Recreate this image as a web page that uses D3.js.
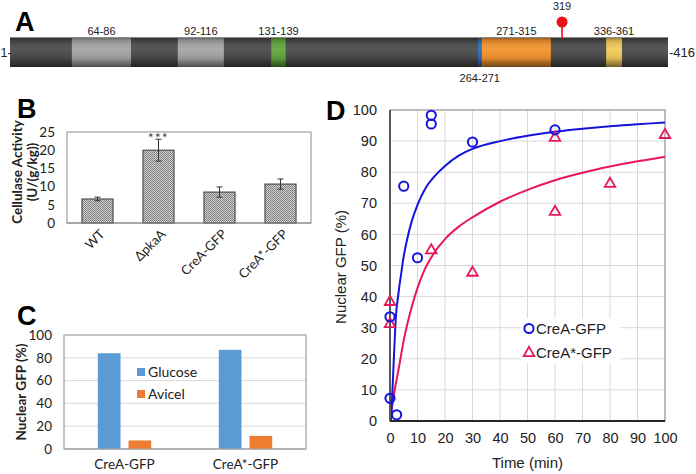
<!DOCTYPE html>
<html><head><meta charset="utf-8">
<script src="https://cdn.jsdelivr.net/npm/d3@7"></script>
<style>body{margin:0;background:#fff}svg{display:block}</style>
</head><body><svg id="c" width="696" height="474"></svg>
<script>
// ---------- Panel A data ----------
const proteinLength = 416;
const domainStarts = [64, 92, 131, 264, 271, 336];
const domainEnds   = [86, 116, 139, 271, 315, 361];
const domainLabels = ["64-86", "92-116", "131-139", "264-271", "271-315", "336-361"];
const domainColors = ["#a6a6a6", "#a6a6a6", "#62a83e", "#2f6db5", "#f4952f", "#f4cb5a"];
const domainLabelSide = ["top", "top", "top", "bottom", "top", "top"];
const sitePos = 319;
const siteLabel = "319";
// schematic (not-to-scale) map: residue breakpoints -> fraction of bar length
const schematicBreaks = [1, 64, 86, 92, 116, 131, 139, 264, 271, 315, 319, 336, 361, 416];
const schematicFrac   = [0, 0.094, 0.184, 0.255, 0.325, 0.397, 0.419, 0.711, 0.717, 0.822, 0.839, 0.906, 0.930, 1];

// ---------- Panel B data ----------
const strainLabels = ["WT", "ΔpkaA", "CreA-GFP", "CreA*-GFP"];
const cellulaseMean = [6.6, 20.0, 8.5, 10.7];
const cellulaseErr  = [0.5, 3.0, 1.4, 1.4];
const cellulaseTicks = [0, 5, 10, 15, 20, 25];
const sigLabels = ["", "***", "", ""];

// ---------- Panel C data ----------
const cCategories = ["CreA-GFP", "CreA*-GFP"];
const cSeries = ["Glucose", "Avicel"];
const glucoseVals = [84, 87];
const avicelVals  = [7.5, 11.5];
const cTicks = [0, 20, 40, 60, 80, 100];

// ---------- Panel D data ----------
const creaTime = [0, 0, 2.4, 5, 10, 15, 15, 30, 60];
const creaGFP  = [33.5, 7.3, 2.0, 75.5, 52.5, 98.3, 95.5, 89.7, 93.6];
const creaStarTime = [0, 0, 15, 30, 60, 60, 80, 100];
const creaStarGFP  = [38.6, 31.5, 55.2, 48, 91.4, 67.6, 76.6, 92.3];
// fitted curves
const creaFitTime = [0.35, 0.85, 1.5, 2.1, 3, 4, 5, 6, 8, 10, 13, 16, 20, 25, 30, 40, 50, 60, 70, 80, 90, 100];
const creaFitGFP  = [0, 9, 22, 33, 40.5, 47, 53, 57.5, 64.5, 69.5, 75, 78.5, 82, 85.3, 87.5, 90, 91.7, 93, 94, 94.8, 95.4, 96];
const creaStarFitTime = [0, 1, 2, 3, 5, 8, 12, 16, 20, 25, 30, 40, 50, 60, 70, 80, 90, 100];
const creaStarFitGFP  = [0, 6, 11.5, 16, 26, 37, 47.5, 54, 58.5, 62.5, 65.5, 70.5, 74.3, 77.4, 79.8, 81.8, 83.5, 85];
const dTicksX = [0, 10, 20, 30, 40, 50, 60, 70, 80, 90, 100];
const dTicksY = [0, 10, 20, 30, 40, 50, 60, 70, 80, 90, 100];
const dSeriesNames = ["CreA-GFP", "CreA*-GFP"];

// ================================================================
const svg = d3.select("#c");
svg.append("rect").attr("width", 696).attr("height", 474).attr("fill", "#fff");
const defs = svg.append("defs");

const SANS = "'Liberation Sans', Arial, sans-serif";
const CAL = "Lato, 'Open Sans', sans-serif";

function panelLetter(t, x, y) {
  svg.append("text").attr("x", x).attr("y", y).text(t)
    .attr("font-family", SANS).attr("font-weight", "bold").attr("font-size", 27).attr("fill", "#000");
}

// ---------------- Panel A ----------------
{
  const barL = 10, barR = 668, barY = 37, barH = 30;
  const ax = d3.scaleLinear().domain(schematicBreaks)
    .range(schematicFrac.map(f => barL + f * (barR - barL)));

  const sh = defs.append("linearGradient").attr("id", "shade").attr("x1", 0).attr("y1", 0).attr("x2", 0).attr("y2", 1);
  [[0, "#000", 0.45], [0.12, "#000", 0.15], [0.42, "#fff", 0.06], [0.7, "#000", 0.08], [1, "#000", 0.55]]
    .forEach(([o, c, a]) => sh.append("stop").attr("offset", o).attr("stop-color", c).attr("stop-opacity", a));

  const gA = svg.append("g");
  gA.append("rect").attr("x", ax(1)).attr("y", barY).attr("width", ax(proteinLength) - ax(1)).attr("height", barH)
    .attr("fill", "#4b4b4b");
  domainStarts.forEach((s, i) => {
    gA.append("rect").attr("x", ax(s)).attr("y", barY).attr("width", ax(domainEnds[i]) - ax(s)).attr("height", barH)
      .attr("fill", domainColors[i]);
  });
  gA.append("rect").attr("x", ax(1)).attr("y", barY).attr("width", ax(proteinLength) - ax(1)).attr("height", barH)
    .attr("fill", "url(#shade)");
  gA.append("line").attr("x1", ax(1)).attr("x2", ax(proteinLength)).attr("y1", barY + 0.5).attr("y2", barY + 0.5)
    .attr("stroke", "#8a8a8a").attr("stroke-width", 1);

  domainStarts.forEach((s, i) => {
    const cx = (ax(s) + ax(domainEnds[i])) / 2;
    gA.append("text").attr("x", cx).attr("y", domainLabelSide[i] === "top" ? barY - 2 : barY + barH + 15)
      .attr("text-anchor", "middle").attr("font-family", SANS).attr("font-size", 11).attr("fill", "#222")
      .text(domainLabels[i]);
  });
  // phosphosite pin
  const px = ax(sitePos);
  gA.append("line").attr("x1", px).attr("x2", px).attr("y1", 24).attr("y2", barY + 2)
    .attr("stroke", "#e8101a").attr("stroke-width", 1.6);
  gA.append("circle").attr("cx", px).attr("cy", 22).attr("r", 5.5).attr("fill", "#ec1016");
  gA.append("text").attr("x", px).attr("y", 10).attr("text-anchor", "middle")
    .attr("font-family", SANS).attr("font-size", 11).attr("fill", "#222").text(siteLabel);
  gA.append("text").attr("x", 0.5).attr("y", barY + barH / 2 + 5).attr("text-anchor", "start")
    .attr("font-family", SANS).attr("font-size", 12.5).attr("fill", "#222").text("1-");
  gA.append("text").attr("x", ax(proteinLength) + 1).attr("y", barY + barH / 2 + 5).attr("text-anchor", "start")
    .attr("font-family", SANS).attr("font-size", 13).attr("fill", "#222").text("-" + proteinLength);
  panelLetter("A", 15, 31);
}

// ---------------- Panel B ----------------
{
  const L = 67, R = 311, T = 132, B = 223;
  const x = d3.scaleBand().domain(strainLabels).range([L, R]).paddingInner(0.49).paddingOuter(0.245);
  const y = d3.scaleLinear().domain([0, 25]).range([B, T]);
  const pat = defs.append("pattern").attr("id", "dots").attr("width", 2).attr("height", 2).attr("patternUnits", "userSpaceOnUse");
  pat.append("rect").attr("width", 2).attr("height", 2).attr("fill", "#cfcfcf");
  pat.append("rect").attr("width", 1).attr("height", 1).attr("fill", "#7c7c7c");
  pat.append("rect").attr("x", 1).attr("y", 1).attr("width", 1).attr("height", 1).attr("fill", "#8a8a8a");

  const g = svg.append("g");
  g.append("rect").attr("x", L).attr("y", T).attr("width", R - L).attr("height", B - T)
    .attr("fill", "none").attr("stroke", "#8c8c8c").attr("stroke-width", 1);
  g.selectAll(".bar").data(strainLabels).join("rect")
    .attr("x", d => x(d)).attr("width", x.bandwidth())
    .attr("y", (d, i) => y(cellulaseMean[i])).attr("height", (d, i) => y(0) - y(cellulaseMean[i]))
    .attr("fill", "url(#dots)").attr("stroke", "#3a3a3a").attr("stroke-width", 1);
  g.append("line").attr("x1", L).attr("x2", R).attr("y1", B).attr("y2", B).attr("stroke", "#8c8c8c").attr("stroke-width", 1.2);
  strainLabels.forEach((d, i) => {
    const cx = x(d) + x.bandwidth() / 2;
    const y1 = y(cellulaseMean[i] + cellulaseErr[i]), y0 = y(cellulaseMean[i] - cellulaseErr[i]);
    g.append("line").attr("x1", cx).attr("x2", cx).attr("y1", y1).attr("y2", y0).attr("stroke", "#333").attr("stroke-width", 1);
    [y1, y0].forEach(yy => g.append("line").attr("x1", cx - 3).attr("x2", cx + 3).attr("y1", yy).attr("y2", yy)
      .attr("stroke", "#333").attr("stroke-width", 1));
    if (sigLabels[i]) g.append("text").attr("x", cx).attr("y", 143).attr("text-anchor", "middle")
      .attr("font-family", CAL).attr("font-size", 13).attr("letter-spacing", 1.5).attr("fill", "#333").text(sigLabels[i]);
    g.append("text").attr("transform", `translate(${cx + 8},${B + 12}) rotate(-45)`).attr("text-anchor", "end")
      .attr("font-family", CAL).attr("font-size", 13).attr("fill", "#222").text(d);
  });
  const yAx = g.append("g").attr("transform", `translate(${L},0)`)
    .call(d3.axisLeft(y).tickValues(cellulaseTicks).tickSize(0).tickPadding(12));
  yAx.select(".domain").remove();
  yAx.selectAll("text").attr("font-family", CAL).attr("font-size", 13.5).attr("fill", "#222");
  const tl = g.append("text").attr("transform", `rotate(-90) translate(${-172},0)`)
    .attr("text-anchor", "middle").attr("font-family", CAL).attr("font-weight", "bold").attr("font-size", 13.5).attr("fill", "#222");
  tl.append("tspan").attr("x", 0).attr("y", 22).text("Cellulase Activity");
  tl.append("tspan").attr("x", 0).attr("y", 37).text("(U/(g/kg))");
  panelLetter("B", 17, 118);
}

// ---------------- Panel C ----------------
{
  const L = 64, R = 306, T = 335, B = 449;
  const x = d3.scaleBand().domain(cCategories).range([L, R]);
  const xs = d3.scaleBand().domain(cSeries).range([0, x.bandwidth()]).paddingInner(0.26).paddingOuter(1.1);
  const y = d3.scaleLinear().domain([0, 100]).range([B, T]);
  const colors = { Glucose: "#5b9bd5", Avicel: "#ed7d31" };
  const vals = { Glucose: glucoseVals, Avicel: avicelVals };
  const g = svg.append("g");
  cTicks.slice(1, -1).forEach(t => g.append("line").attr("x1", L).attr("x2", R).attr("y1", y(t)).attr("y2", y(t))
    .attr("stroke", "#d9d9d9").attr("stroke-width", 1));
  g.append("rect").attr("x", L).attr("y", T).attr("width", R - L).attr("height", B - T)
    .attr("fill", "none").attr("stroke", "#8c8c8c").attr("stroke-width", 1);
  cCategories.forEach((c, ci) => {
    cSeries.forEach(s => {
      const v = vals[s][ci];
      g.append("rect").attr("x", x(c) + xs(s)).attr("width", xs.bandwidth())
        .attr("y", y(v)).attr("height", y(0) - y(v)).attr("fill", colors[s]);
    });
    g.append("text").attr("x", x(c) + x.bandwidth() / 2).attr("y", B + 20).attr("text-anchor", "middle")
      .attr("font-family", CAL).attr("font-size", 13.5).attr("fill", "#222").text(c);
  });
  g.append("line").attr("x1", L).attr("x2", R).attr("y1", B).attr("y2", B).attr("stroke", "#a6a6a6").attr("stroke-width", 1.2);
  const yAx = g.append("g").attr("transform", `translate(${L},0)`)
    .call(d3.axisLeft(y).tickValues(cTicks).tickSize(0).tickPadding(12));
  yAx.select(".domain").remove();
  yAx.selectAll("text").attr("font-family", CAL).attr("font-size", 13.5).attr("fill", "#222");
  g.append("text").attr("transform", `translate(26,${(T + B) / 2}) rotate(-90)`).attr("text-anchor", "middle")
    .attr("font-family", CAL).attr("font-weight", "bold").attr("font-size", 13.5).attr("fill", "#222").text("Nuclear GFP (%)");
  cSeries.forEach((s, i) => {
    const ly = 372 + i * 22;
    g.append("rect").attr("x", 137).attr("y", ly - 4).attr("width", 8).attr("height", 8).attr("fill", colors[s]);
    g.append("text").attr("x", 148).attr("y", ly + 5).attr("font-family", CAL).attr("font-size", 14).attr("fill", "#222").text(s);
  });
  panelLetter("C", 17, 325);
}

// ---------------- Panel D ----------------
{
  const L = 390, R = 665, T = 110, B = 421;
  const x = d3.scaleLinear().domain([0, 100]).range([L, R]);
  const y = d3.scaleLinear().domain([0, 100]).range([B, T]);
  const blue = "#1414dc", pink = "#e6175c";
  const g = svg.append("g");
  dTicksX.slice(1).forEach(t => g.append("line").attr("x1", x(t)).attr("x2", x(t)).attr("y1", T).attr("y2", B)
    .attr("stroke", "#d9d9d9").attr("stroke-width", 1));
  dTicksY.slice(1).forEach(t => g.append("line").attr("x1", L).attr("x2", R).attr("y1", y(t)).attr("y2", y(t))
    .attr("stroke", "#d9d9d9").attr("stroke-width", 1));
  g.append("rect").attr("x", L).attr("y", T).attr("width", R - L).attr("height", B - T)
    .attr("fill", "none").attr("stroke", "#8c8c8c").attr("stroke-width", 1);

  defs.append("clipPath").attr("id", "dclip").append("rect").attr("x", L).attr("y", T - 8).attr("width", R - L + 2).attr("height", B - T + 8);
  const line = d3.line().x(d => x(d[0])).y(d => y(d[1])).curve(d3.curveMonotoneX);
  g.append("path").attr("clip-path", "url(#dclip)").attr("d", line(creaStarFitTime.map((t, i) => [t, creaStarFitGFP[i]])))
    .attr("fill", "none").attr("stroke", pink).attr("stroke-width", 2);
  g.append("path").attr("clip-path", "url(#dclip)").attr("d", line(creaFitTime.map((t, i) => [t, creaFitGFP[i]])))
    .attr("fill", "none").attr("stroke", blue).attr("stroke-width", 2);

  // legend box
  g.append("rect").attr("x", 521).attr("y", 318).attr("width", 100).attr("height", 45).attr("fill", "#fff");

  g.append("line").attr("x1", L).attr("x2", L).attr("y1", T).attr("y2", B).attr("stroke", "#595959").attr("stroke-width", 2);
  g.append("line").attr("x1", L).attr("x2", R).attr("y1", B).attr("y2", B).attr("stroke", "#262626").attr("stroke-width", 2);

  const tri = d3.symbol().type(d3.symbolTriangle).size(48);
  creaStarTime.forEach((t, i) => g.append("path").attr("d", tri()).attr("transform", `translate(${x(t)},${y(creaStarGFP[i]) + 1})`)
    .attr("fill", "none").attr("stroke", pink).attr("stroke-width", 1.8));
  creaTime.forEach((t, i) => g.append("circle").attr("cx", x(t)).attr("cy", y(creaGFP[i])).attr("r", 4.6)
    .attr("fill", "none").attr("stroke", blue).attr("stroke-width", 2));

  const xAx = g.append("g").attr("transform", `translate(0,${B})`)
    .call(d3.axisBottom(x).tickValues(dTicksX).tickSize(0).tickPadding(12));
  xAx.select(".domain").remove();
  xAx.selectAll("text").attr("font-family", SANS).attr("font-size", 14.5).attr("fill", "#222");
  const yAx = g.append("g").attr("transform", `translate(${L},0)`)
    .call(d3.axisLeft(y).tickValues(dTicksY).tickSize(0).tickPadding(13));
  yAx.select(".domain").remove();
  yAx.selectAll("text").attr("font-family", SANS).attr("font-size", 14.5).attr("fill", "#222");
  g.append("text").attr("x", (L + R) / 2).attr("y", 468).attr("text-anchor", "middle")
    .attr("font-family", SANS).attr("font-size", 15).attr("fill", "#222").text("Time (min)");
  g.append("text").attr("transform", `translate(346,267) rotate(-90)`).attr("text-anchor", "middle")
    .attr("font-family", SANS).attr("font-size", 15).attr("fill", "#222").text("Nuclear GFP (%)");

  // legend entries
  g.append("circle").attr("cx", 529).attr("cy", 328.5).attr("r", 4.6).attr("fill", "none").attr("stroke", blue).attr("stroke-width", 2);
  g.append("path").attr("d", tri()).attr("transform", "translate(529,353)").attr("fill", "none").attr("stroke", pink).attr("stroke-width", 1.8);
  dSeriesNames.forEach((n, i) => g.append("text").attr("x", 536).attr("y", 334 + i * 23.5)
    .attr("font-family", SANS).attr("font-size", 15).attr("fill", "#222").text(n));
  panelLetter("D", 326, 120);
}
</script></body></html>
